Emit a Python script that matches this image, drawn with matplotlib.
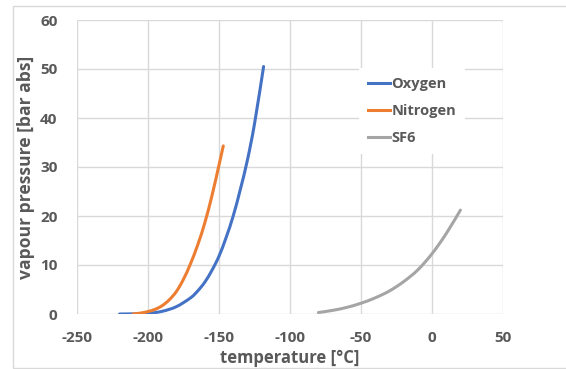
import matplotlib.pyplot as plt
from matplotlib.lines import Line2D
from matplotlib.patches import PathPatch, Rectangle
from matplotlib.path import Path

# vapour pressure curves
oxygen_t = [-220, -210, -200, -190, -180, -170, -165, -160, -155, -150, -145, -140, -135,
            -130, -125, -118.6]
oxygen_p = [0, 0.03, 0.12, 0.55, 1.5, 3.3, 4.7, 6.5, 8.9, 11.8, 15.6, 20.0, 25.4,
            31.4, 38.8, 50.5]

nitrogen_t = [-210.5, -205, -200, -195, -190, -185, -180, -175, -170, -165, -160, -155,
              -150, -147]
nitrogen_p = [0, 0.2, 0.5, 0.95, 1.7, 2.9, 4.6, 7.1, 10.3, 14.1, 18.6, 24.1, 30.4, 34.3]

sf6_t = [-80, -70, -60, -50, -40, -30, -20, -10, 0, 10, 20]
sf6_p = [0.3, 0.74, 1.35, 2.2, 3.3, 4.7, 6.6, 9.0, 12.3, 16.4, 21.2]

series = [('Oxygen', oxygen_t, oxygen_p, '#4472C4'),
          ('Nitrogen', nitrogen_t, nitrogen_p, '#ED7D31'),
          ('SF6', sf6_t, sf6_p, '#A5A5A5')]

TXT = '#595959'
GRID = '#D9D9D9'

plt.rcParams['font.family'] = ['Open Sans', 'DejaVu Sans']
plt.rcParams['font.weight'] = 'bold'
plt.rcParams['axes.labelweight'] = 'bold'
plt.rcParams['axes.unicode_minus'] = False


def smooth_path(xs, ys):
    """Curva suavizada tipo Excel (Catmull-Rom pasada a Bezier)."""
    pts = list(zip(xs, ys))
    verts = [pts[0]]
    codes = [Path.MOVETO]
    n = len(pts)
    for i in range(n - 1):
        p0 = pts[i - 1] if i > 0 else pts[i]
        p1 = pts[i]
        p2 = pts[i + 1]
        p3 = pts[i + 2] if i + 2 < n else pts[i + 1]
        c1 = (p1[0] + (p2[0] - p0[0]) / 6, p1[1] + (p2[1] - p0[1]) / 6)
        c2 = (p2[0] - (p3[0] - p1[0]) / 6, p2[1] - (p3[1] - p1[1]) / 6)
        verts += [c1, c2, p2]
        codes += [Path.CURVE4] * 3
    return Path(verts, codes)


fig = plt.figure(figsize=(5.66, 3.69), dpi=100)
fig.patches.append(Rectangle((13 / 566, 1 / 369), 1.0, 362 / 369, transform=fig.transFigure,
                             fill=False, edgecolor=GRID, linewidth=1))
ax = fig.add_axes([77 / 566, 1 - 314 / 369, 426 / 566, 294 / 369])

handles = []
for name, xs, ys, col in series:
    ax.add_patch(PathPatch(smooth_path(xs, ys), fill=False, edgecolor=col, lw=2.2,
                           capstyle='round', zorder=3))
    handles.append(Line2D([], [], color=col, lw=2.2, label=name))

ax.set_xlim(-250, 50)
ax.set_ylim(0, 60)
ax.set_xticks(range(-250, 51, 50))
ax.set_yticks(range(0, 61, 10))
ax.grid(True, color=GRID, lw=1)
ax.set_axisbelow(True)
for s in ax.spines.values():
    s.set_visible(False)
ax.tick_params(length=0, labelsize=11, labelcolor=TXT)
ax.tick_params(axis='x', pad=12)
ax.tick_params(axis='y', pad=14)

ax.set_xlabel('temperature [°C]', fontsize=12, color=TXT, labelpad=3)
ax.set_ylabel('vapour pressure [bar abs]', fontsize=12.6, color=TXT, labelpad=4)

leg = ax.legend(handles=handles, loc='upper left', bbox_to_anchor=(0.645, 0.86), frameon=True,
                fontsize=10.5, handlelength=1.5, handletextpad=0.1, labelspacing=0.9,
                borderpad=0.6)
leg.get_frame().set_edgecolor('none')
leg.get_frame().set_facecolor('white')
leg.get_frame().set_alpha(1)
leg.get_frame().set_boxstyle('square', pad=0)
for t in leg.get_texts():
    t.set_color(TXT)

fig.savefig('out.png', dpi=100)
